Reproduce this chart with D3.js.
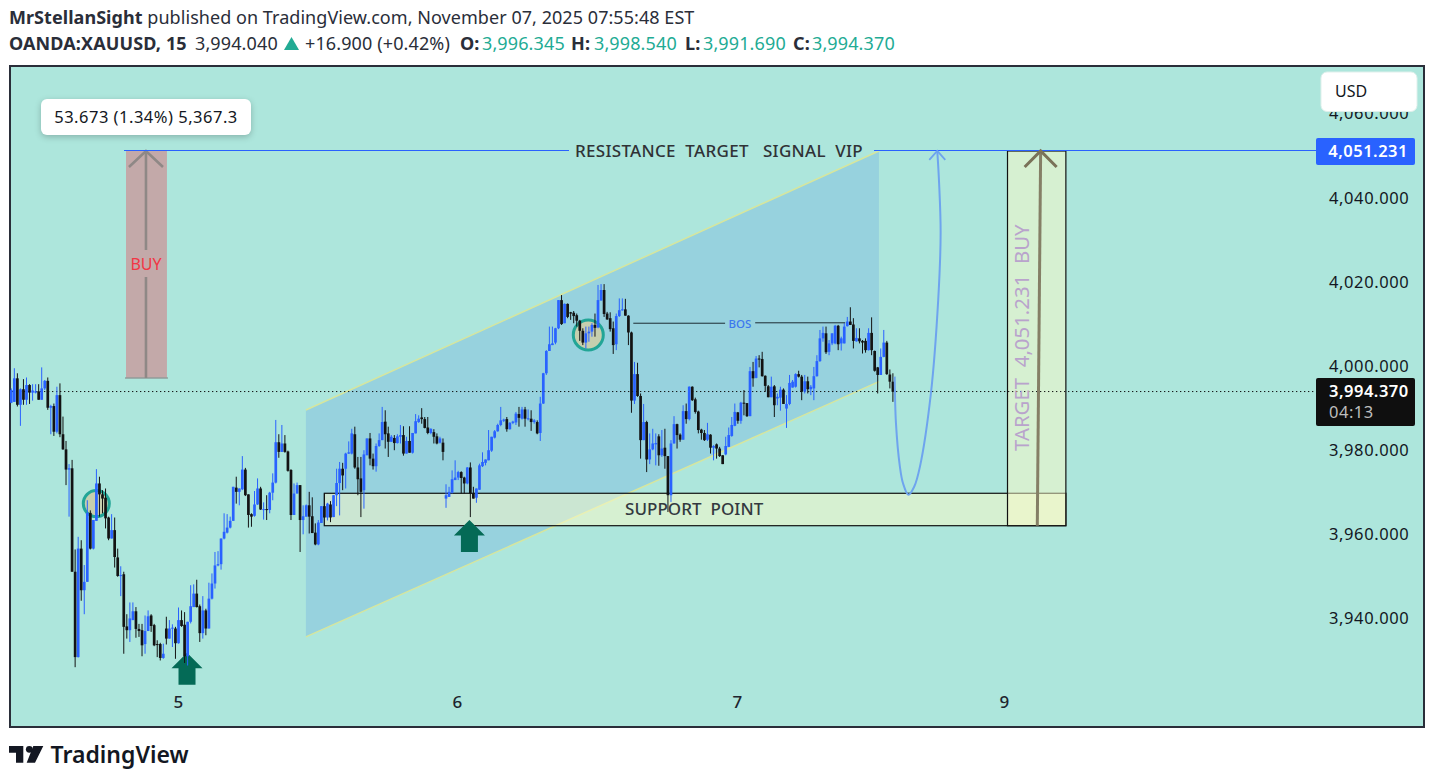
<!DOCTYPE html>
<html><head><meta charset="utf-8">
<script src="https://cdnjs.cloudflare.com/ajax/libs/d3/7.8.5/d3.min.js"></script>
<style>
html,body{margin:0;padding:0;background:#fff;overflow:hidden}
svg{display:block}
text{font-family:"Noto Sans","Open Sans",sans-serif;white-space:pre}
</style></head><body><svg id="c" width="1434" height="782"></svg>
<script>
// OHLC rows: [open, high, low, close]
const candlesMon=[
[3991.2,3994.6,3991.1,3994.2],[3991.4,3999.4,3991.4,3997.0],[3997.0,3998.2,3990.3,3990.7],[3990.7,3994.6,3985.7,3994.4],[3994.4,3996.8,3990.7,3991.9],[3991.9,3997.2,3990.7,3995.4],[3995.4,3995.6,3990.9,3993.6],[3993.6,3995.6,3991.7,3994.1],[3993.6,3995.6,3993.4,3993.9],[3993.9,3995.6,3991.9,3991.9],
[3991.9,3999.6,3991.9,3994.6],[3994.6,3996.6,3994.2,3996.4],[3996.4,3997.2,3989.5,3990.0],[3990.0,3990.7,3983.7,3990.4],[3990.4,3991.0,3983.3,3984.3],[3984.3,3995.0,3983.9,3993.0],[3993.0,3995.8,3983.0,3983.7],[3983.7,3987.9,3980.0,3980.1],[3980.1,3982.1,3971.6,3975.3],[3975.3,3976.6,3964.1,3975.6],
[3975.6,3977.6,3951.0,3951.0],[3951.0,3956.3,3928.3,3930.7],[3930.7,3959.3,3930.6,3956.5],[3956.5,3958.5,3944.1,3946.6],[3946.6,3952.6,3940.9,3948.6],[3948.6,3968.0,3948.6,3965.0],[3965.0,3965.6,3956.3,3956.5],[3956.5,3963.3,3956.3,3963.3],[3963.1,3975.4,3963.1,3972.0],[3972.0,3973.6,3964.1,3969.4],
[3969.4,3970.4,3964.9,3968.4],[3968.6,3970.8,3961.3,3963.7],[3963.9,3964.1,3958.5,3958.9],[3958.9,3964.7,3958.9,3960.9],[3960.9,3963.9,3952.0,3954.5],[3954.4,3956.5,3949.8,3950.0],[3950.0,3952.3,3945.2,3950.2],[3950.4,3951.0,3931.5,3937.9],[3938.0,3940.9,3935.1,3937.1],[3937.1,3943.7,3934.3,3939.9],
[3939.5,3943.7,3939.5,3941.6],[3941.6,3942.6,3935.3,3937.4],[3937.4,3938.6,3935.5,3936.9],[3937.1,3938.6,3930.9,3933.5],[3933.8,3940.6,3931.5,3936.9],[3936.9,3941.8,3936.9,3940.4],[3940.6,3940.9,3936.7,3938.1],[3938.3,3938.6,3933.3,3933.5],[3933.8,3934.7,3930.7,3933.6],[3933.8,3934.1,3929.9,3930.5],
[3930.5,3933.9,3930.3,3931.5],[3937.5,3940.3,3933.7,3935.1],[3935.1,3939.5,3935.1,3937.5],[3937.5,3938.5,3933.1,3937.7],[3937.5,3937.9,3930.3,3934.0],[3934.0,3942.5,3933.9,3939.5],[3939.5,3941.8,3937.9,3938.1],[3938.4,3941.4,3929.3,3930.9],[3930.9,3939.1,3928.7,3939.1],[3939.1,3947.8,3938.7,3942.8],
[3942.6,3948.0,3942.6,3945.8],[3945.8,3949.1,3942.5,3942.6],[3942.8,3943.2,3934.3,3936.4],[3936.4,3945.2,3935.1,3941.8],[3941.8,3942.2,3935.9,3937.5],[3937.5,3948.4,3937.5,3944.6],[3944.6,3950.6,3944.4,3948.2],[3948.2,3955.7,3947.0,3952.5],[3952.5,3955.9,3952.3,3952.8],[3952.8,3958.9,3951.5,3958.9],
[3958.9,3964.9,3958.7,3960.5],[3960.3,3964.7,3960.1,3961.5],[3961.5,3964.1,3961.3,3963.1],[3963.1,3971.2,3963.1,3971.2],[3971.0,3973.6,3967.2,3970.0],[3970.0,3970.8,3966.8,3970.8],[3970.6,3978.5,3970.4,3975.3],[3975.3,3975.7,3969.0,3969.2],[3969.4,3969.4,3961.5,3964.5],[3964.7,3964.9,3961.7,3964.1],
[3964.3,3970.2,3964.1,3967.0],[3967.0,3973.2,3966.9,3970.8],[3970.8,3971.2,3965.7,3965.8],[3965.7,3967.5,3963.4,3965.9],[3965.9,3969.2,3963.3,3965.7],[3965.7,3970.0,3964.9,3969.8],[3969.8,3974.4,3968.0,3972.2],[3972.2,3987.1,3972.0,3981.8],[3981.8,3983.7,3978.1,3979.5],[3979.5,3985.9,3979.5,3981.5],
[3981.5,3983.5,3979.3,3979.5],[3979.6,3979.8,3974.8,3975.0],[3975.2,3975.4,3963.3,3964.5],[3964.5,3972.0,3964.5,3969.6],[3969.6,3972.2,3969.6,3971.6],[3971.6,3971.6,3955.7,3963.3],[3963.3,3966.8,3959.9,3964.2],[3964.1,3967.0,3964.1,3966.8],[3966.8,3970.0,3960.1,3964.1],[3964.2,3968.7,3960.2,3960.2],
[3960.3,3962.5,3957.3,3957.5],[3957.5,3963.3,3957.3,3962.7]];
const candlesTue=[
[3962.6,3966.6,3962.6,3966.6],[3966.6,3969.6,3963.9,3963.9],[3963.9,3967.4,3963.2,3967.2],[3967.0,3967.8,3962.8,3963.9],[3964.0,3969.2,3964.0,3969.2],[3969.2,3975.5,3966.6,3972.1],[3972.1,3977.1,3964.4,3975.5],[3975.5,3976.9,3970.4,3973.9],[3975.5,3979.3,3970.8,3979.1],[3979.1,3982.0,3979.0,3979.4],
[3979.1,3985.0,3978.9,3983.9],[3983.7,3985.5,3975.5,3975.8],[3975.8,3978.3,3969.2,3973.0],[3973.2,3978.3,3964.0,3970.0],[3970.4,3979.9,3966.0,3978.9],[3978.7,3982.7,3978.7,3982.7],[3982.7,3984.0,3976.3,3977.9],[3977.9,3979.1,3975.3,3976.1],[3976.1,3981.5,3974.8,3980.9],[3980.9,3983.9,3980.7,3982.3],
[3982.3,3990.2,3982.3,3986.6],[3986.7,3989.4,3980.3,3983.7],[3983.9,3985.5,3978.3,3981.9],[3981.9,3983.5,3981.9,3983.1],[3982.8,3983.5,3979.9,3981.6],[3981.6,3983.7,3981.5,3983.2],[3983.1,3985.9,3981.5,3983.5],[3983.5,3985.6,3978.6,3979.1],[3979.1,3983.1,3979.1,3982.1],[3982.1,3985.6,3979.3,3979.3],
[3979.3,3984.0,3979.1,3984.0],[3983.9,3988.5,3983.9,3986.8],[3986.6,3988.2,3986.4,3987.4],[3987.7,3989.9,3986.2,3987.3],[3987.3,3987.8,3985.1,3985.2],[3985.3,3987.8,3983.7,3984.0],[3984.0,3985.1,3983.7,3985.0],[3984.2,3984.9,3981.5,3983.1],[3983.2,3983.9,3981.3,3981.5],[3981.7,3983.1,3981.5,3982.7],
[3981.7,3982.7,3977.5,3979.5],[3968.4,3971.8,3966.2,3969.2],[3968.8,3971.2,3968.8,3970.0],[3969.8,3975.1,3969.6,3973.0],[3972.8,3977.5,3972.8,3973.4],[3973.4,3975.0,3972.8,3974.7],[3974.7,3974.9,3969.6,3973.3],[3973.4,3973.6,3969.6,3972.0],[3972.0,3975.9,3971.8,3975.8],[3975.8,3977.0,3964.0,3969.6],
[3969.6,3971.2,3968.4,3968.4],[3968.6,3970.8,3967.4,3970.8],[3970.5,3976.7,3970.5,3976.3],[3976.1,3979.4,3975.9,3977.1],[3976.9,3977.7,3976.3,3977.7],[3977.5,3984.7,3977.5,3979.9],[3979.8,3983.1,3979.5,3983.1],[3982.9,3984.7,3982.7,3984.4],[3984.4,3986.2,3984.3,3985.9],[3985.9,3990.2,3985.6,3987.0],
[3986.9,3987.4,3986.6,3987.2],[3987.3,3987.8,3984.3,3984.9],[3984.9,3986.6,3984.8,3986.4],[3986.4,3986.9,3986.1,3986.7],[3986.5,3989.0,3985.9,3988.6],[3988.5,3990.2,3985.5,3987.6],[3987.4,3990.2,3987.2,3989.6],[3989.6,3990.2,3985.5,3987.4],[3987.3,3989.6,3987.0,3987.5],[3987.4,3989.4,3984.5,3986.6],
[3986.6,3987.3,3986.2,3987.0],[3986.6,3987.0,3983.7,3983.9],[3984.0,3992.6,3982.1,3991.0],[3991.0,3998.3,3990.9,3998.2],[3998.2,4003.7,3997.8,4003.5],[4003.5,4009.3,4003.5,4005.1],[4004.9,4009.3,4004.9,4005.3],[4005.5,4009.0,4005.1,4008.9],[4008.9,4015.6,4008.7,4015.6],[4015.6,4016.8,4009.7,4009.9],
[4010.1,4014.8,4010.1,4014.7],[4014.7,4014.8,4011.3,4011.6],[4012.7,4012.8,4010.9,4012.4],[4012.6,4013.0,4010.1,4011.8],[4012.0,4012.4,4009.3,4010.7],[4010.7,4010.9,4005.9,4008.3],[4008.3,4008.9,4004.9,4005.5],[4005.5,4009.3,4004.1,4007.7],[4007.7,4009.3,4005.7,4008.1],[4008.1,4010.1,4006.9,4009.7],
[4009.7,4012.4,4006.9,4009.0],[4009.1,4019.2,4008.9,4015.6],[4015.5,4019.4,4015.5,4018.0],[4018.0,4019.4,4011.6,4012.3],[4012.4,4012.8,4010.9,4011.0],[4011.3,4012.7,4008.1,4008.7],[4008.9,4010.5,4002.8,4004.9],[4005.1,4012.4,4003.7,4011.8],[4011.8,4016.0,4011.6,4013.2]];
const candlesWed=[
[4013.2,4016.0,4013.1,4013.4],[4013.4,4015.9,4011.9,4011.9],[4011.9,4012.0,4004.9,4007.9],[4007.9,4008.1,3988.8,3991.7],[3991.7,4000.9,3990.9,3998.0],[3998.0,4000.7,3992.6,3992.8],[3992.8,3993.4,3977.9,3982.3],[3982.3,3990.9,3982.3,3986.6],[3986.6,3986.9,3974.7,3977.7],[3977.7,3983.9,3976.6,3980.1],
[3980.1,3985.0,3979.9,3981.5],[3981.3,3983.9,3976.3,3981.6],[3983.2,3983.7,3976.2,3978.7],[3978.7,3984.7,3978.3,3980.3],[3980.5,3985.0,3975.5,3978.5],[3978.5,3978.5,3965.2,3969.2],[3969.2,3982.3,3967.6,3981.5],[3981.5,3988.0,3981.5,3986.1],[3986.1,3986.2,3980.3,3983.5],[3983.6,3983.9,3981.9,3982.4],
[3982.4,3990.6,3982.4,3989.2],[3989.2,3991.0,3986.2,3987.3],[3987.3,3995.1,3987.0,3995.0],[3995.0,3995.1,3991.6,3991.8],[3992.0,3992.4,3988.6,3989.0],[3989.1,3989.3,3983.9,3984.7],[3984.8,3985.0,3982.4,3984.0],[3984.0,3984.7,3982.1,3982.3],[3982.4,3986.4,3982.1,3983.7],[3983.6,3983.7,3979.1,3980.5],
[3980.5,3981.1,3977.5,3980.9],[3981.3,3981.5,3977.9,3980.3],[3980.3,3980.7,3978.3,3978.5],[3978.7,3978.7,3976.6,3976.6],[3978.9,3983.1,3978.7,3980.9],[3980.7,3985.3,3980.7,3983.5],[3983.3,3987.8,3983.1,3985.9],[3985.7,3991.0,3985.6,3989.0],[3988.9,3989.0,3986.2,3986.9],[3986.9,3991.4,3986.2,3991.2],
[3991.2,3994.2,3988.2,3991.1],[3991.1,3991.1,3987.8,3988.0],[3988.0,3999.7,3988.0,3998.7],[3998.7,4000.9,3995.0,3997.0],[3997.1,4002.3,3997.0,4001.7],[4001.7,4002.5,3999.6,4001.5],[4001.6,4003.3,3997.4,3997.5],[3997.6,3997.7,3993.8,3995.2],[3995.1,3995.4,3992.5,3992.5],[3992.5,3997.4,3992.5,3995.0],
[3995.1,3995.4,3987.8,3990.6],[3992.2,3993.4,3990.6,3992.6],[3992.4,3995.0,3989.3,3994.3],[3994.3,3994.6,3990.9,3990.9],[3989.8,3993.0,3985.2,3990.9],[3990.9,3997.8,3990.6,3995.9],[3994.8,3996.6,3994.8,3996.2],[3995.0,3998.2,3994.8,3998.0],[3998.0,3998.8,3997.2,3997.4],[3997.4,3997.8,3991.8,3993.8],
[3993.9,3997.8,3993.4,3996.3],[3996.3,3997.4,3993.4,3994.4],[3994.4,3995.4,3993.0,3995.0],[3994.6,3999.7,3991.8,3997.5],[3997.5,4002.5,3997.4,4001.1],[4001.1,4008.5,4000.9,4006.5],[4006.5,4009.3,4005.7,4007.8],[4007.7,4009.3,4002.8,4003.2],[4003.3,4006.1,4002.5,4005.3],[4005.3,4007.7,4004.9,4007.7],
[4005.3,4009.7,4005.1,4009.5],[4009.5,4009.7,4003.7,4005.1],[4005.3,4006.9,4003.6,4006.5],[4005.3,4010.1,4005.3,4009.3],[4009.4,4011.6,4009.3,4010.5],[4010.5,4013.9,4009.7,4009.7],[4009.8,4011.3,4004.1,4005.9],[4005.8,4008.9,4005.7,4006.6],[4006.5,4008.9,4005.3,4005.8],[4005.9,4006.1,4002.9,4005.5],
[4005.9,4006.5,4003.1,4003.7],[4003.7,4008.9,4003.6,4007.8],[4007.8,4011.5,4002.5,4003.7],[4003.5,4003.6,3998.6,3998.8],[3999.6,3999.7,3993.4,3997.8],[3997.8,4004.1,3997.8,4002.1],[4002.1,4008.5,4002.0,4005.5],[4005.5,4005.9,3997.8,3998.0],[3997.9,3999.1,3994.6,3996.2],[3996.2,3998.2,3991.4,3993.8]];

const priceTicks=[4060,4040,4020,4000,3980,3960,3940];
const dayLabels=["5","6","7","9"];
const dayIndex=[55.8,147.6,239.7,327.5];
// drawing anchors, in bar index and price
const resistance=4051.1, lastLine=3993.85;
const channelIdx=[97.9,286.4];
const channelUpper=[3989.46,4051.06];
const channelLower=[3935.5,3996.2];
const supportZone={from:103.96,to:347.9,top:3969.66,bottom:3961.95};
const targetZone={from:328.7,to:347.9,top:4051.06,bottom:3961.95};
const buyBox={from:38.73,to:52.2,top:4051.06,bottom:3997.07};
const buyArrowIdx=45.3, targetArrow=[[338.5,3961.95],[339.6,4051.06]];
const circles=[[28.96,3967.2,13],[190.8,4007.3,15]];
const greenArrows=[[58.8,3931.75],[151.7,3963.3]];
const bosLeft=[[205.6,4010.1],[235.8,4010.1]], bosRight=[[245.7,4010.2],[275.3,4010.2]];
const resistanceLeft=[38.07,184.5], resistanceRight=[284.8,431.5];
const swingPath=[[291.6,3997.4],[292.0,3986.4],[293.3,3976.0],[294.3,3972.1],[296.1,3969.3],[298,3971.2],[299.9,3976.0],[303.5,3993.4],[305.9,4015.6],[306.7,4031.6],[306.2,4043.4],[305.6,4051.1]];

const candles=candlesMon.concat(candlesTue,candlesWed).map((r,i)=>({i:i+1,o:r[0],h:r[1],l:r[2],c:r[3]}));

const svg=d3.select("#c");
const x=d3.scaleLinear().domain([1,291]).range([11.3,892.9]);
const y=d3.scaleLinear().domain([4040,3940]).range([197.5,618]);
const lineGen=d3.line().x(d=>x(d[0])).y(d=>y(d[1]));

// frame
svg.append("rect").attr("x",10).attr("y",66).attr("width",1414).attr("height",661).attr("fill","#ade6dc").attr("stroke","#2a2e39").attr("stroke-width",2);

// channel
const chPoly=[[channelIdx[0],channelUpper[0]],[channelIdx[1],channelUpper[1]],[channelIdx[1],channelLower[1]],[channelIdx[0],channelLower[0]]];
svg.append("path").attr("d",lineGen(chPoly)+"Z").attr("fill","#97d2de");
[channelUpper,channelLower].forEach(v=>svg.append("path").attr("d",lineGen([[channelIdx[0],v[0]],[channelIdx[1],v[1]]])).attr("stroke","#d6e69e").attr("stroke-width",1.5).attr("fill","none"));

// buy box
svg.append("rect").attr("x",x(buyBox.from)).attr("y",y(buyBox.top)).attr("width",x(buyBox.to)-x(buyBox.from)).attr("height",y(buyBox.bottom)-y(buyBox.top)).attr("fill","#c3a9a9");
svg.append("line").attr("x1",x(buyBox.from)-1).attr("x2",x(buyBox.to)+1).attr("y1",y(buyBox.bottom)).attr("y2",y(buyBox.bottom)).attr("stroke","#8f9a98").attr("stroke-width",2).attr("opacity",.7);
const bax=x(buyArrowIdx);
svg.append("g").attr("stroke","#8f8886").attr("stroke-width",2.6).attr("fill","none").call(g=>{
 g.append("path").attr("d",`M${bax},${y(buyBox.bottom)}V277M${bax},250V${y(buyBox.top)}`);
 g.append("path").attr("d",`M${bax-17},${y(buyBox.top)+16}L${bax},${y(buyBox.top)}L${bax+17},${y(buyBox.top)+16}`);
});
svg.append("text").attr("x",bax).attr("y",264).attr("text-anchor","middle").attr("dominant-baseline","central").attr("font-size",16).attr("fill","#f23645").text("BUY");

// zones
const zoneFill="rgba(252,250,200,.52)";
svg.append("rect").attr("x",x(supportZone.from)).attr("y",y(supportZone.top)).attr("width",x(supportZone.to)-x(supportZone.from)).attr("height",y(supportZone.bottom)-y(supportZone.top)).attr("fill",zoneFill).attr("stroke","#111").attr("stroke-width",1.2);
svg.append("rect").attr("x",x(targetZone.from)).attr("y",y(targetZone.top)).attr("width",x(targetZone.to)-x(targetZone.from)).attr("height",y(targetZone.bottom)-y(targetZone.top)).attr("fill",zoneFill).attr("stroke","#111").attr("stroke-width",1.2);

// resistance line
[resistanceLeft,resistanceRight].forEach(s=>svg.append("line").attr("x1",x(s[0])).attr("x2",x(s[1])).attr("y1",y(resistance)).attr("y2",y(resistance)).attr("stroke","#2962ff").attr("stroke-width",1).attr("shape-rendering","crispEdges"));
svg.append("text").attr("x",575).attr("y",y(resistance)).attr("dominant-baseline","central").attr("font-size",17).attr("font-weight",500).attr("letter-spacing",.3).attr("fill","#303236").text("RESISTANCE\u00a0\u00a0TARGET\u00a0\u00a0\u00a0SIGNAL\u00a0\u00a0VIP");

// last price dotted line
svg.append("line").attr("x1",12).attr("x2",1316).attr("y1",y(lastLine)).attr("y2",y(lastLine)).attr("stroke","#111").attr("stroke-dasharray","1.3 2.7").attr("stroke-width",1);

// circles
svg.append("g").selectAll("circle").data(circles).join("circle").attr("cx",d=>x(d[0])).attr("cy",d=>y(d[1])).attr("r",d=>d[2]).attr("fill","#c6cfae").attr("stroke","#22a596").attr("stroke-width",3);

// green arrows
svg.append("g").selectAll("path").data(greenArrows).join("path").attr("fill","#046a56")
 .attr("transform",d=>`translate(${x(d[0])},${y(d[1])})`).attr("d","M0,0L15.5,15.5H8.5V32H-8.5V15.5H-15.5Z");

// candles
const up=d=>d.c>=d.o, blue="#2962ff", black="#131313";
const cg=svg.append("g");
cg.selectAll("line").data(candles).join("line").attr("x1",d=>x(d.i)).attr("x2",d=>x(d.i)).attr("y1",d=>y(d.h)).attr("y2",d=>y(d.l)).attr("stroke",d=>up(d)?blue:black).attr("stroke-width",1);
cg.selectAll("rect").data(candles).join("rect").attr("x",d=>x(d.i)-1.35).attr("width",2.7).attr("y",d=>y(Math.max(d.o,d.c))).attr("height",d=>Math.max(1,Math.abs(y(d.o)-y(d.c)))).attr("fill",d=>up(d)?blue:black);

// BOS
[bosLeft,bosRight].forEach(s=>svg.append("path").attr("d",lineGen(s)).attr("stroke","#1c2b33").attr("stroke-width",1).attr("fill","none"));
svg.append("text").attr("x",740).attr("y",323.5).attr("text-anchor","middle").attr("dominant-baseline","central").attr("font-size",11.5).attr("font-weight",500).attr("fill","#3d78ee").text("BOS");

// swing curve with arrow head
svg.append("path").attr("d",d3.line().x(d=>x(d[0])).y(d=>y(d[1])).curve(d3.curveCatmullRom.alpha(.5))(swingPath)).attr("fill","none").attr("stroke","#6ea4ee").attr("stroke-width",2);
const tip=swingPath[swingPath.length-1];
svg.append("path").attr("d",`M${x(tip[0])-8},${y(tip[1])+9}L${x(tip[0])},${y(tip[1])}L${x(tip[0])+8},${y(tip[1])+9}`).attr("fill","none").attr("stroke","#6ea4ee").attr("stroke-width",1.8);

// target arrow + texts
svg.append("path").attr("d",lineGen(targetArrow)).attr("stroke","#857f66").attr("stroke-width",3).attr("fill","none");
const ta=targetArrow[1];
svg.append("path").attr("d",`M${x(ta[0])-16},${y(ta[1])+16}L${x(ta[0])},${y(ta[1])}L${x(ta[0])+16},${y(ta[1])+16}`).attr("stroke","#7a7258").attr("stroke-width",3).attr("fill","none");
svg.append("text").attr("transform","translate(1021,451) rotate(-90)").attr("dominant-baseline","central").attr("font-size",20.4).attr("fill","#b9a3cc").text("TARGET\u00a0\u00a04,051.231\u00a0\u00a0BUY");
svg.append("text").attr("x",625).attr("y",508.5).attr("dominant-baseline","central").attr("font-size",17).attr("font-weight",500).attr("letter-spacing",.05).attr("fill","#33393f").text("SUPPORT\u00a0\u00a0POINT");

// price axis
const yAxis=d3.axisRight(y).tickValues(priceTicks).tickSize(0).tickPadding(0).tickFormat(d3.format(",.3f"));
svg.append("g").attr("transform","translate(1329,-1)").call(yAxis).call(g=>{g.select(".domain").remove();g.selectAll("text").attr("font-size",16.5).attr("letter-spacing",.6).attr("fill","#131722").attr("font-family",'"Noto Sans"').attr("dy",0).attr("dominant-baseline","central");});
// time axis
const xAxis=d3.axisBottom(x).tickValues(dayIndex).tickSize(0).tickPadding(0).tickFormat((d,i)=>dayLabels[i]);
svg.append("g").attr("transform","translate(0,696)").call(xAxis).call(g=>{g.select(".domain").remove();g.selectAll("text").attr("font-size",17).attr("font-weight",500).attr("fill","#20242e").attr("font-family",'"Noto Sans"');});

// USD box
svg.append("rect").attr("x",1321).attr("y",72).attr("width",96).attr("height",39.5).attr("rx",6).attr("fill","#fff").attr("stroke","#e0f0ec");
svg.append("text").attr("x",1335).attr("y",91).attr("dominant-baseline","central").attr("font-size",16).attr("fill","#131722").text("USD");

// price labels
svg.append("rect").attr("x",1316).attr("y",138).attr("width",99).attr("height",27).attr("rx",2).attr("fill","#2962ff");
svg.append("text").attr("x",1408).attr("y",150.5).attr("text-anchor","end").attr("dominant-baseline","central").attr("font-size",16.5).attr("letter-spacing",.5).attr("font-weight",600).attr("fill","#fff").text("4,051.231");
svg.append("rect").attr("x",1316).attr("y",378).attr("width",99).attr("height",48).attr("rx",2).attr("fill","#0f0f0f");
svg.append("text").attr("x",1329).attr("y",390.5).attr("dominant-baseline","central").attr("font-size",16.5).attr("letter-spacing",.5).attr("font-weight",600).attr("fill","#fff").text("3,994.370");
svg.append("text").attr("x",1329).attr("y",411.5).attr("dominant-baseline","central").attr("font-size",16.5).attr("letter-spacing",.5).attr("fill","#bdbdbd").text("04:13");

// measure label
svg.append("rect").attr("x",41).attr("y",99).attr("width",210).attr("height",36).attr("rx",6).attr("fill","#fff").style("filter","drop-shadow(0 2px 3px rgba(0,0,0,.22))");
svg.append("text").attr("x",146).attr("y",116.5).attr("text-anchor","middle").attr("dominant-baseline","central").attr("font-size",16.5).attr("letter-spacing",.5).attr("fill","#131722").text("53.673 (1.34%) 5,367.3");

// header
svg.append("text").attr("x",9).attr("y",24).attr("font-size",18).attr("letter-spacing",.05).attr("fill","#2a2e39").call(t=>{
 t.append("tspan").attr("font-weight",700).text("MrStellanSight");
 t.append("tspan").text(" published on TradingView.com, November 07, 2025 07:55:48 EST");
});
const teal="#22ab94", ink="#2a2e39";
const hdr=[["OANDA:XAUUSD, 15",9,700,ink],["3,994.040",195,400,ink],["+16.900 (+0.42%)",305,400,ink],["O:",460,700,ink],["3,996.345",482,400,teal],["H:",571,700,ink],["3,998.540",594,400,teal],["L:",685,700,ink],["3,991.690",703,400,teal],["C:",793,700,ink],["3,994.370",812,400,teal]];
svg.append("g").selectAll("text").data(hdr).join("text").attr("x",d=>d[1]).attr("y",50).attr("font-size",18).attr("letter-spacing",.12).attr("font-weight",d=>d[2]).attr("fill",d=>d[3]).text(d=>d[0]);
svg.append("path").attr("d","M284,50L291.5,37L299,50Z").attr("fill",teal);

// footer logo
svg.append("path").attr("d","M9,746H23.3V762.7H16V752.7H9Z M33.3,746H43.3L35,762.7H26.7Z").attr("fill","#131722");
svg.append("circle").attr("cx",29.3).attr("cy",749.3).attr("r",3.4).attr("fill","#131722");
svg.append("text").attr("x",50.5).attr("y",762.7).attr("font-size",23).attr("font-weight",600).attr("font-family","Inter").attr("fill","#131722").text("TradingView");
</script></body></html>
